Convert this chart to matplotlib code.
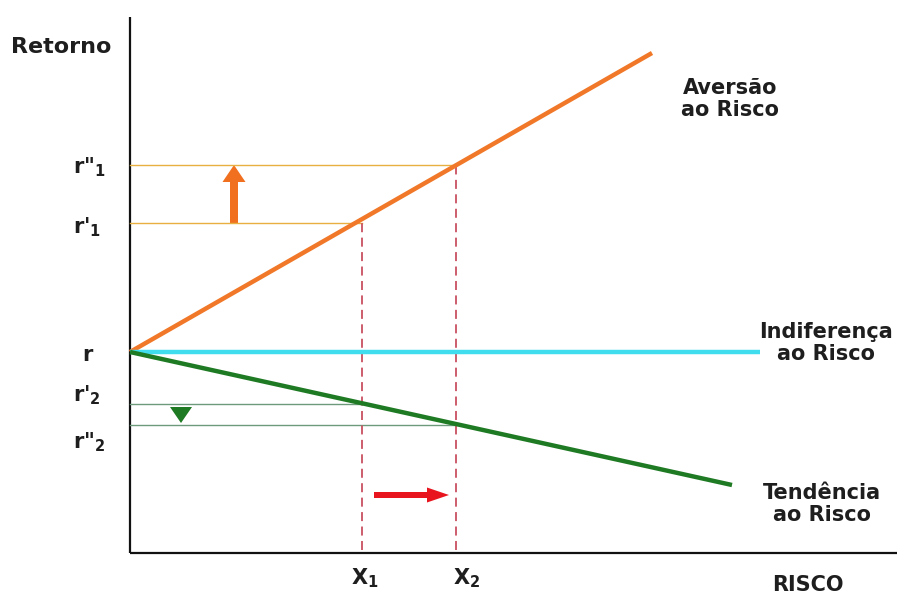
import matplotlib.pyplot as plt

# coordinates: origin at the axes corner, units roughly one pixel
r0 = 201          # risk-free return "r"
x_end = [522, 630, 602]          # ends of the three attitude lines
y_end = [500, 201, 68]
line_names = ["Aversão\nao Risco", "Indiferença\nao Risco", "Tendência\nao Risco"]
line_colors = ["#F07828", "#40DDEE", "#1F7A24"]

X1, X2 = 232, 326
r1_a, r1_b = 330, 388   # r'1, r''1
r2_a, r2_b = 149, 128   # r'2, r''2

y_labels = ['r"$_\\mathbf{1}$', "r'$_\\mathbf{1}$", "r", "r'$_\\mathbf{2}$", 'r"$_\\mathbf{2}$']
y_label_pos = [386, 326, 198, 158, 111]

plt.rcParams['font.family'] = ['DejaVu Sans']
plt.rcParams['mathtext.fontset'] = 'dejavusans'

fig = plt.figure(figsize=(8.97, 5.97), dpi=100)
ax = fig.add_axes([0, 0, 1, 1])
ax.set_xlim(-130, 767)
ax.set_ylim(-44, 553)
ax.axis('off')

txt = '#1E1E1E'

# axes
ax.plot([0, 0], [0, 536], color='#111111', lw=1.6, solid_capstyle='butt')
ax.plot([0, 767], [0, 0], color='#111111', lw=1.6, solid_capstyle='butt')

# helper lines
ax.plot([0, X1], [r1_a, r1_a], color='#E8B040', lw=1)
ax.plot([0, X2], [r1_b, r1_b], color='#E8B040', lw=1)
ax.plot([0, X1], [r2_a, r2_a], color='#6E9A7C', lw=1)
ax.plot([0, X2], [r2_b, r2_b], color='#6E9A7C', lw=1)
ax.plot([X1, X1], [3, r1_a], color='#C85060', lw=1.3, ls=(0, (5, 3)))
ax.plot([X2, X2], [3, r1_b], color='#C85060', lw=1.3, ls=(0, (5, 3)))

# attitude lines
for xe, ye, c in zip(x_end, y_end, line_colors):
    ax.plot([0, xe], [r0, ye], color=c, lw=3.2, solid_capstyle='butt')

# arrows
ax.arrow(104, r1_a, 0, r1_b - r1_a, width=8, head_width=23, head_length=17,
         length_includes_head=True, color='#F07020', lw=0)
ax.arrow(51, 146, 0, -16, width=1, head_width=22, head_length=16,
         length_includes_head=True, color='#1F7A24', lw=0)
ax.arrow(244, 58, 75, 0, width=6, head_width=15, head_length=22,
         length_includes_head=True, color='#E8141E', lw=0)

fs = 15
ax.text(-119, 506, "Retorno", fontsize=16, fontweight='bold', color=txt, va='center', ha='left')
for lab, v in zip(y_labels, y_label_pos):
    xl = -48 if lab == "r" else -57
    ax.text(xl, v, lab, fontsize=fs, fontweight='bold', color=txt, va='center', ha='left')

ax.text(X1 + 3, -25, "X$_\\mathbf{1}$", fontsize=fs, fontweight='bold', color=txt, ha='center', va='center')
ax.text(X2 + 11, -25, "X$_\\mathbf{2}$", fontsize=fs, fontweight='bold', color=txt, ha='center', va='center')
ax.text(678, -32, "RISCO", fontsize=fs, fontweight='bold', color=txt, ha='center', va='center')

label_pos = [(600, 454), (696, 210), (692, 49)]
for (lx, ly), name in zip(label_pos, line_names):
    ax.text(lx, ly, name, fontsize=fs, fontweight='bold', color=txt, ha='center', va='center',
            linespacing=1.12)

fig.savefig("out.png", dpi=100)
